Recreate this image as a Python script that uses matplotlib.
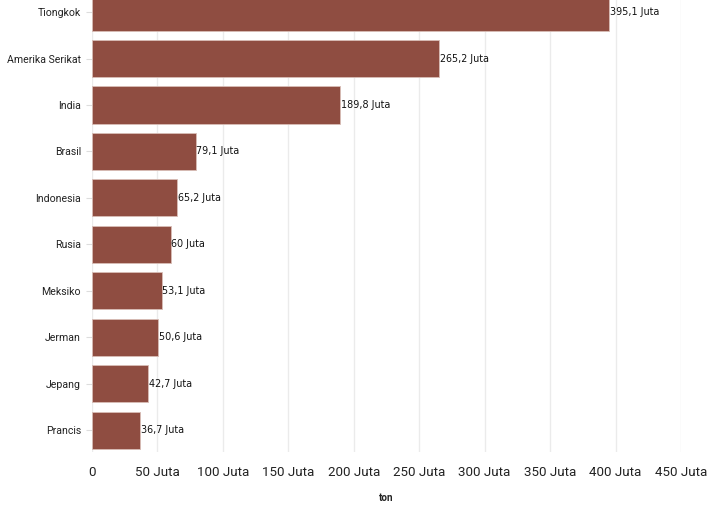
import matplotlib.pyplot as plt

countries = ['Tiongkok', 'Amerika Serikat', 'India', 'Brasil', 'Indonesia',
             'Rusia', 'Meksiko', 'Jerman', 'Jepang', 'Prancis']
values = [395.1, 265.2, 189.8, 79.1, 65.2, 60.0, 53.1, 50.6, 42.7, 36.7]
labels = ['395,1 Juta', '265,2 Juta', '189,8 Juta', '79,1 Juta', '65,2 Juta',
          '60 Juta', '53,1 Juta', '50,6 Juta', '42,7 Juta', '36,7 Juta']
xticks = [0, 50, 100, 150, 200, 250, 300, 350, 400, 450]
xticklabels = ['0'] + [f'{t} Juta' for t in xticks[1:]]

plt.rcParams['font.family'] = ['Roboto', 'DejaVu Sans']

fig = plt.figure(figsize=(7.24, 5.07), dpi=100)
ax = fig.add_axes([92 / 724, 1 - 452 / 507, 589 / 724, 452 / 507])

ypos = list(range(len(countries)))
ax.barh(ypos, values, height=0.8, color='#8f4d41', edgecolor='#d8bdb6',
        linewidth=0.6, zorder=2)
for y, v, lab in zip(ypos, values, labels):
    ax.text(v + 0.6, y, lab, va='center', ha='left', fontsize=6.9,
            family='DejaVu Sans', color='#111111', zorder=3)

ax.set_xlim(0, 450)
ax.set_ylim(9.47, -0.26)
ax.set_yticks(ypos)
ax.set_yticklabels(countries, fontsize=7.6, color='#222222')
ax.set_xticks(xticks)
ax.set_xticklabels(xticklabels, fontsize=9.6, color='#222222')
ax.tick_params(axis='y', length=4, color='#dddddd', pad=4)
ax.tick_params(axis='x', length=0, pad=10)
ax.grid(axis='x', color='#ebebeb', linewidth=1, zorder=0)
for s in ax.spines.values():
    s.set_visible(False)
ax.set_xlabel('ton', fontsize=7, fontweight='bold', labelpad=10, color='#222222')

fig.savefig('out.png', dpi=100)
